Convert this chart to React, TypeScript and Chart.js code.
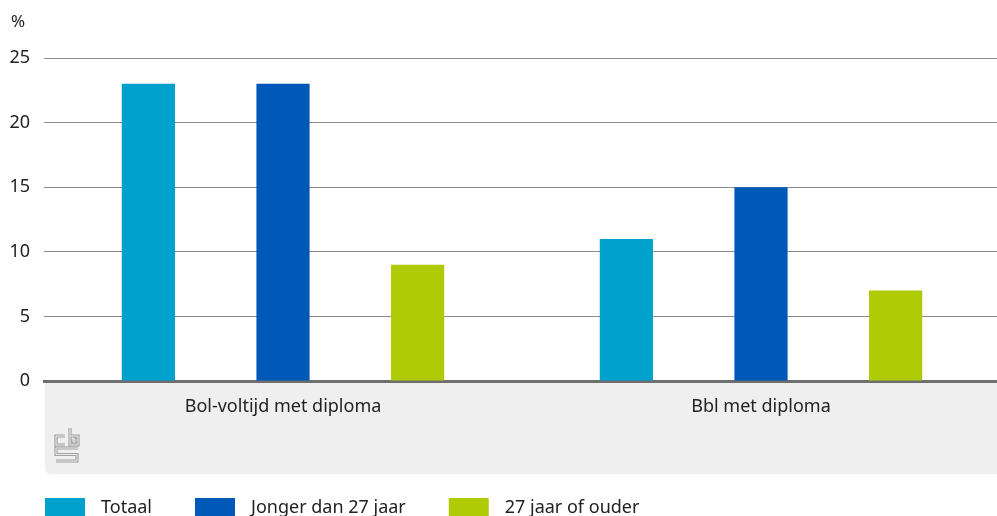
import React, { useEffect, useRef } from "react";
import { Chart, registerables } from "chart.js";

Chart.register(...registerables);

const categories = ["Bol-voltijd met diploma", "Bbl met diploma"];
const seriesNames = ["Totaal", "Jonger dan 27 jaar", "27 jaar of ouder"];
const totaal = [23, 11];
const jonger = [23, 15];
const ouder = [9, 7];
const yTicks = [0, 5, 10, 15, 20, 25];
const unitLabel = "%";

const colors = ["#00a1cd", "#0058b8", "#afcb05"];
const FONT = "'Noto Sans', sans-serif";

function drawLogo(ctx: CanvasRenderingContext2D, x0: number, y0: number) {
  const paths: [number, number][][] = [
    [[10, 8], [1, 8], [1, 17], [10, 17]],
    [[15, 0], [15, 17], [23, 17], [23, 8], [15, 8]],
    [[18, 11], [20, 11], [20, 14], [18, 14], [18, 11]],
    [[23, 20], [1, 20], [1, 26.5], [22, 26.5], [22, 33], [1, 33]],
  ];
  ctx.save();
  ctx.lineJoin = "miter";
  ctx.lineCap = "butt";
  for (const [w, c] of [[3.2, "#a0a0a0"], [1, "#efefef"]] as [number, string][]) {
    ctx.lineWidth = w;
    ctx.strokeStyle = c;
    for (const p of paths) {
      ctx.beginPath();
      p.forEach(([px, py], i) => (i ? ctx.lineTo(x0 + px, y0 + py) : ctx.moveTo(x0 + px, y0 + py)));
      ctx.stroke();
    }
  }
  ctx.restore();
}

const decorPlugin = {
  id: "decor",
  beforeDraw(chart: any) {
    const { ctx, chartArea } = chart;
    const l = 45, r = 997, t = chartArea.bottom, b = chartArea.bottom + 93;
    const rad = 6;
    ctx.save();
    ctx.fillStyle = "#efefef";
    ctx.beginPath();
    ctx.moveTo(l, t);
    ctx.lineTo(r, t);
    ctx.lineTo(r, b);
    ctx.lineTo(l + rad, b);
    ctx.quadraticCurveTo(l, b, l, b - rad);
    ctx.closePath();
    ctx.fill();
    ctx.restore();
    drawLogo(ctx, l + 10, t + 47);
    ctx.save();
    ctx.fillStyle = "#222";
    ctx.font = `17px ${FONT}`;
    ctx.textBaseline = "middle";
    ctx.textAlign = "left";
    ctx.fillText(unitLabel, 11, 22);
    ctx.restore();
  },
  afterDraw(chart: any) {
    const { ctx } = chart;
    ctx.save();
    ctx.font = `18px ${FONT}`;
    ctx.textBaseline = "middle";
    ctx.textAlign = "left";
    let x = 45;
    const y = 498;
    chart.data.datasets.forEach((ds: any) => {
      ctx.fillStyle = ds.backgroundColor;
      ctx.fillRect(x, y, 40, 18);
      ctx.fillStyle = "#222";
      ctx.fillText(ds.label, x + 56, y + 10);
      x += 56 + ctx.measureText(ds.label).width + 43;
    });
    ctx.restore();
  },
};

export default function App() {
  const ref = useRef<HTMLCanvasElement>(null);
  useEffect(() => {
    document.body.style.margin = "0";
    const data = [totaal, jonger, ouder];
    const chart = new Chart(ref.current!, {
      type: "bar",
      data: {
        labels: categories,
        datasets: seriesNames.map((n, i) => ({
          label: n,
          data: data[i],
          backgroundColor: colors[i],
          categoryPercentage: 0.845,
          barPercentage: 0.395,
        })),
      },
      options: {
        animation: false,
        responsive: true,
        maintainAspectRatio: false,
        layout: { padding: { top: 58, right: 0, left: 0, bottom: 0 } },
        plugins: { legend: { display: false }, tooltip: { enabled: false } },
        scales: {
          x: {
            grid: { display: false },
            border: { color: "#6e6e6e", width: 3 },
            ticks: { color: "#222", font: { size: 18, family: FONT }, padding: 7 },
            afterFit: (s: any) => { s.height = 135; },
          },
          y: {
            min: 0,
            max: 25,
            afterBuildTicks: (s: any) => { s.ticks = yTicks.map((v) => ({ value: v })); },
            grid: { color: "#8c8c8c", lineWidth: 1, drawTicks: false },
            border: { display: false },
            ticks: { color: "#222", font: { size: 18, family: FONT }, padding: 14 },
            afterFit: (s: any) => { s.width = 44; },
          },
        },
      },
      plugins: [decorPlugin],
    });
    return () => chart.destroy();
  }, []);
  return (
    <div style={{ width: 997, height: 516, overflow: "hidden" }}>
      <div style={{ position: "relative", width: 1000, height: 516 }}>
        <canvas ref={ref} />
      </div>
    </div>
  );
}
